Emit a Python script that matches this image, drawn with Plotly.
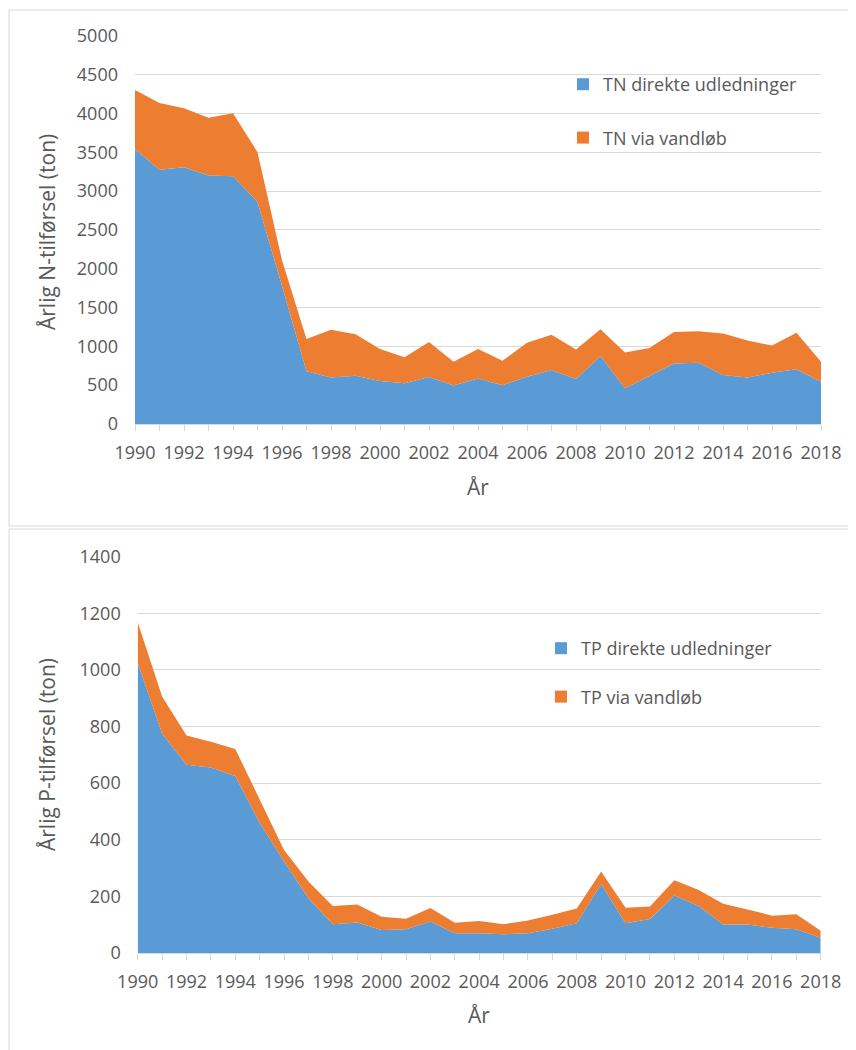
import plotly.graph_objects as go

years = list(range(1990, 2019))

tn_direkte = [3540, 3275, 3305, 3200, 3190, 2860, 1780, 680, 600, 620,
              555, 525, 605, 495, 585, 500, 610, 695, 580, 875,
              460, 620, 780, 790, 630, 600, 660, 705, 545]
tn_vandlob = [760, 860, 760, 745, 810, 640, 330, 415, 615, 535,
              410, 335, 450, 305, 380, 315, 435, 455, 380, 345,
              460, 360, 405, 405, 535, 475, 350, 470, 255]

tp_direkte = [1025, 775, 665, 655, 625, 460, 323, 193, 102, 108,
              81, 84, 111, 70, 70, 66, 70, 86, 105, 244,
              105, 120, 203, 166, 101, 101, 89, 84, 54]
tp_vandlob = [143, 131, 103, 91, 96, 81, 41, 60, 64, 63,
              47, 37, 48, 37, 43, 36, 45, 49, 52, 44,
              55, 44, 54, 57, 73, 53, 43, 53, 25]

BLUE = "#5B9BD5"
ORANGE = "#ED7D31"
GRID = "#D9D9D9"
TXT = "#595959"
FONT = "Open Sans"
FS = 18
FS_TITLE = 21

W, H = 856, 1050
OFF = 8  # page body margin

def px(x):
    return (x - OFF) / W

def py(y):
    return 1 - (y - OFF) / H

fig = go.Figure()

fig.add_trace(go.Scatter(x=years, y=tn_direkte, stackgroup="n", mode="lines",
                         line=dict(width=0), fillcolor=BLUE, showlegend=False,
                         xaxis="x", yaxis="y"))
fig.add_trace(go.Scatter(x=years, y=tn_vandlob, stackgroup="n", mode="lines",
                         line=dict(width=0), fillcolor=ORANGE, showlegend=False,
                         xaxis="x", yaxis="y"))
fig.add_trace(go.Scatter(x=years, y=tp_direkte, stackgroup="p", mode="lines",
                         line=dict(width=0), fillcolor=BLUE, showlegend=False,
                         xaxis="x2", yaxis="y2"))
fig.add_trace(go.Scatter(x=years, y=tp_vandlob, stackgroup="p", mode="lines",
                         line=dict(width=0), fillcolor=ORANGE, showlegend=False,
                         xaxis="x2", yaxis="y2"))

for name, col, lg, grp in [("TN direkte udledninger", BLUE, "legend", "a"),
                           ("TN via vandløb", ORANGE, "legend", "b"),
                           ("TP direkte udledninger", BLUE, "legend2", "c"),
                           ("TP via vandløb", ORANGE, "legend2", "d")]:
    fig.add_trace(go.Scatter(x=[None], y=[None], mode="markers", name=name,
                             marker=dict(symbol="square", size=12, color=col),
                             legend=lg, legendgroup=grp,
                             xaxis="x" if lg == "legend" else "x2",
                             yaxis="y" if lg == "legend" else "y2"))

xcommon = dict(range=[1990, 2018], dtick=2, tick0=1990, showgrid=False,
               showline=True, linecolor=GRID, linewidth=1,
               ticks="outside", ticklen=6, tickcolor=GRID,
               minor=dict(dtick=1, ticks="outside", ticklen=6, tickcolor=GRID),
               tickfont=dict(family=FONT, size=FS, color=TXT),
               ticklabelstandoff=6, zeroline=False, fixedrange=True,
               automargin=False)
ycommon = dict(showgrid=True, gridcolor=GRID, gridwidth=1, zeroline=False,
               showline=False, ticks="", tickfont=dict(family=FONT, size=FS, color=TXT),
               ticklabelstandoff=16, fixedrange=True, automargin=False)

def ann(text, x, y, angle=0):
    return dict(text=text, x=px(x), y=py(y), xref="paper", yref="paper",
                xanchor="center", yanchor="middle", textangle=angle,
                showarrow=False, font=dict(family=FONT, size=FS_TITLE, color=TXT))

fig.update_layout(
    width=W, height=H,
    margin=dict(l=0, r=0, t=0, b=0, autoexpand=False),
    paper_bgcolor="white", plot_bgcolor="white",
    font=dict(family=FONT, size=FS, color=TXT),
    xaxis=dict(domain=[px(135), px(821)], anchor="y", **xcommon),
    yaxis=dict(domain=[py(424), py(35.7)], anchor="x", range=[0, 5000], dtick=500, **ycommon),
    xaxis2=dict(domain=[px(137.7), px(820.7)], anchor="y2", **xcommon),
    yaxis2=dict(domain=[py(953), py(556.7)], anchor="x2", range=[0, 1400], dtick=200, **ycommon),
    legend=dict(x=px(563), y=py(66), xanchor="left", yanchor="top",
                bgcolor="rgba(0,0,0,0)", tracegroupgap=27,
                font=dict(family=FONT, size=FS, color=TXT)),
    legend2=dict(x=px(541), y=py(630), xanchor="left", yanchor="top",
                 bgcolor="rgba(0,0,0,0)", tracegroupgap=22,
                 font=dict(family=FONT, size=FS, color=TXT)),
    annotations=[
        ann("Årlig N-tilførsel (ton)", 47, 232, -90),
        ann("År", 478, 487),
        ann("Årlig P-tilførsel (ton)", 47, 755, -90),
        ann("År", 479, 1015),
    ],
    shapes=[
        dict(type="rect", xref="paper", yref="paper", x0=px(9), x1=1.05,
             y0=py(526), y1=py(10), line=dict(color=GRID, width=1), layer="below"),
        dict(type="rect", xref="paper", yref="paper", x0=px(9), x1=1.05,
             y0=-0.05, y1=py(529), line=dict(color=GRID, width=1), layer="below"),
    ],
)

fig.write_html("out.html")
